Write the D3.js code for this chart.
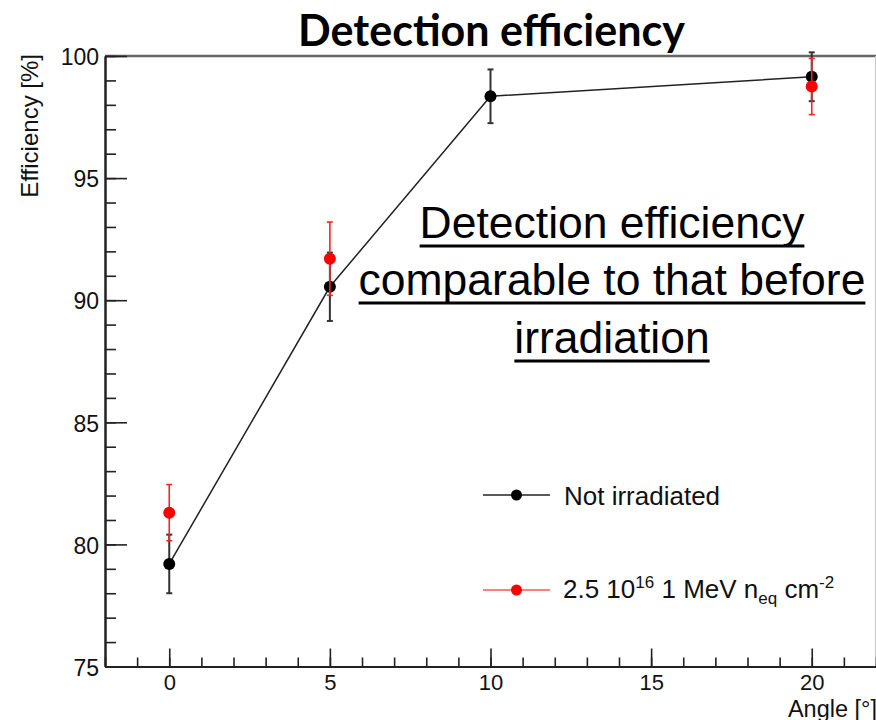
<!DOCTYPE html>
<html>
<head>
<meta charset="utf-8">
<script src="https://cdn.jsdelivr.net/npm/d3@7"></script>
<style>
body { margin: 0; background: #fff; }
svg text { font-family: "Liberation Sans", Arial, sans-serif; fill: #111; }
</style>
</head>
<body>
<svg id="chart" width="876" height="720"></svg>
<script>
// data
const angles = [0, 5, 10, 20];
const effNotIrr = [79.2, 90.55, 98.35, 99.15];
const errNotIrr = [1.2, 1.4, 1.1, 1.0];
const anglesIrr = [0, 5, 20];
const effIrr = [81.3, 91.7, 98.75];
const errIrr = [1.15, 1.5, 1.15];
const xTicks = [0, 5, 10, 15, 20];
const yTicks = [75, 80, 85, 90, 95, 100];
const titleText = "Detection efficiency";
const noteLines = ["Detection efficiency", "comparable to that before", "irradiation"];

const svg = d3.select("#chart");

const x = d3.scaleLinear().domain([-2, 22]).range([105, 876]);
const y = d3.scaleLinear().domain([75, 100]).range([666.5, 56]);

// frame: top and right lines
svg.append("line").attr("x1", 105).attr("x2", 876).attr("y1", 56).attr("y2", 56)
    .attr("stroke", "#666").attr("stroke-width", 2.5);
svg.append("line").attr("x1", 875.5).attr("x2", 875.5).attr("y1", 56).attr("y2", 666.5)
    .attr("stroke", "#ccc").attr("stroke-width", 1);

// y axis, minor then major ticks
svg.append("g").attr("transform", "translate(105,0)")
    .call(d3.axisLeft(y).tickValues(d3.range(75, 101, 1)).tickSize(-11).tickSizeOuter(0).tickFormat(""));
const yMajor = svg.append("g").attr("transform", "translate(105,0)")
    .call(d3.axisLeft(y).tickValues(yTicks).tickSize(-22).tickSizeOuter(0).tickPadding(6));
yMajor.selectAll("text").attr("dy", "0.38em").style("font-size", "23px");

// x axis
svg.append("g").attr("transform", "translate(0,666.5)")
    .call(d3.axisBottom(x).tickValues(d3.range(-2, 23, 1)).tickSize(-9).tickSizeOuter(0).tickFormat(""));
const xMajor = svg.append("g").attr("transform", "translate(0,666.5)")
    .call(d3.axisBottom(x).tickValues(xTicks).tickSize(-18).tickSizeOuter(0).tickPadding(8));
xMajor.selectAll("text").style("font-size", "22px");

svg.selectAll(".domain").attr("stroke", "#222").attr("stroke-width", 2);
svg.selectAll(".tick line").attr("stroke", "#222").attr("stroke-width", 1.6);

// axis titles
svg.append("text").attr("transform", "translate(38,54) rotate(-90)")
    .attr("text-anchor", "end").style("font-size", "24px").text("Efficiency [%]");
svg.append("text").attr("x", 877).attr("y", 716.5)
    .attr("text-anchor", "end").style("font-size", "23.5px").text("Angle [°]");

// error bars helper
function errorBars(xs, ys, es, color, width) {
    const g = svg.append("g").attr("stroke", color).attr("stroke-width", width);
    xs.forEach((a, i) => {
        const cx = x(a), lo = y(ys[i] - es[i]), hi = y(ys[i] + es[i]);
        g.append("line").attr("x1", cx).attr("x2", cx).attr("y1", lo).attr("y2", hi);
        g.append("line").attr("x1", cx - 3).attr("x2", cx + 3).attr("y1", lo).attr("y2", lo);
        g.append("line").attr("x1", cx - 3).attr("x2", cx + 3).attr("y1", hi).attr("y2", hi);
    });
}

// not irradiated: line, error bars, markers
const line = d3.line().x(d => x(d[0])).y(d => y(d[1]));
svg.append("path").datum(angles.map((a, i) => [a, effNotIrr[i]]))
    .attr("d", line).attr("fill", "none").attr("stroke", "#222").attr("stroke-width", 1.5);
errorBars(angles, effNotIrr, errNotIrr, "#333", 2);
svg.append("g").selectAll("circle").data(angles).enter().append("circle")
    .attr("cx", d => x(d)).attr("cy", (d, i) => y(effNotIrr[i])).attr("r", 6).attr("fill", "#000");

// irradiated: error bars, markers
errorBars(anglesIrr, effIrr, errIrr, "#f22", 1.6);
svg.append("g").selectAll("circle").data(anglesIrr).enter().append("circle")
    .attr("cx", d => x(d)).attr("cy", (d, i) => y(effIrr[i])).attr("r", 6).attr("fill", "#f00");

// legend
const leg = svg.append("g");
[[495, "#222", "#000"], [590, "#f55", "#f00"]].forEach(([ly, lc, mc]) => {
    leg.append("line").attr("x1", 483).attr("x2", 550).attr("y1", ly).attr("y2", ly)
        .attr("stroke", lc).attr("stroke-width", 1.5);
    leg.append("circle").attr("cx", 516.5).attr("cy", ly).attr("r", 5.5).attr("fill", mc);
});
leg.append("text").attr("x", 564).attr("y", 505).style("font-size", "26px").text("Not irradiated");
const t2 = leg.append("text").attr("x", 563).attr("y", 598).style("font-size", "26px");
t2.append("tspan").text("2.5 10");
t2.append("tspan").attr("dy", -10).style("font-size", "17px").text("16");
t2.append("tspan").attr("dy", 10).text(" 1 MeV n");
t2.append("tspan").attr("dy", 6).style("font-size", "17px").text("eq");
t2.append("tspan").attr("dy", -6).text(" cm");
t2.append("tspan").attr("dy", -10).style("font-size", "17px").text("-2");

// fit a text's font size to a target width
function fitFont(t, size, target) {
    t.style("font-size", size + "px");
    const w = t.node().getComputedTextLength();
    const s = size * target / w;
    t.style("font-size", s + "px");
    return s;
}

// title
const title = svg.append("text").attr("x", 491.5).attr("y", 46).attr("text-anchor", "middle")
    .style("font-family", "Lato, 'Open Sans', sans-serif").style("font-weight", "bold")
    .style("fill", "#000").text(titleText);
fitFont(title, 36, 387);

// annotation with underlines
const noteBase = [238, 295, 353];
const notes = svg.append("g").style("font-family", "Lato, 'Open Sans', sans-serif");
const noteTexts = noteLines.map((s, i) => notes.append("text").attr("x", 612).attr("y", noteBase[i])
    .attr("text-anchor", "middle").style("fill", "#000").text(s));
const fs = fitFont(noteTexts[1], 40, 507);
noteTexts.forEach((t, i) => {
    t.style("font-size", fs + "px");
    const w = t.node().getComputedTextLength();
    notes.append("rect").attr("x", 612 - w / 2).attr("y", noteBase[i] + 6.5)
        .attr("width", w).attr("height", 3).attr("fill", "#000");
});
</script>
</body>
</html>
